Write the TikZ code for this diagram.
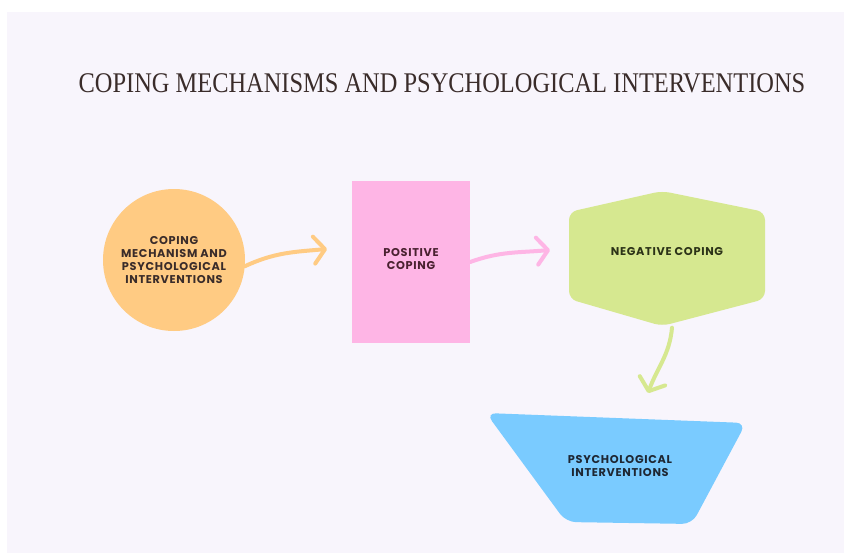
\documentclass[tikz,border=0pt]{standalone}
\usepackage{fontspec}
\usetikzlibrary{arrows.meta}
\newfontfamily\titlefont{Liberation Serif}
\newfontfamily\boxfont{Poppins}[LetterSpace=6]

\definecolor{pagebg}{HTML}{F8F5FC}
\definecolor{copeorange}{HTML}{FFCB83}
\definecolor{pospink}{HTML}{FEB5E5}
\definecolor{neggreen}{HTML}{D6E890}
\definecolor{psyblue}{HTML}{7ACBFF}
\definecolor{titleink}{HTML}{3A2C2A}
\definecolor{posink}{HTML}{4A2130}
\definecolor{negink}{HTML}{2C3318}
\definecolor{psyink}{HTML}{1E2733}

\tikzset{
  boxtext/.style={font=\boxfont\bfseries\fontsize{11.3}{12.7}\selectfont, align=center, inner sep=0pt},
  flowarrow/.style={line width=4pt, line cap=round,
    -{Straight Barb[length=11pt,width=27pt,line width=4pt,round]}},
}

\begin{document}
\begin{tikzpicture}[x=1pt,y=-1pt]
  \useasboundingbox (0,0) rectangle (844,555);
  % background
  \fill[white] (0,0) rectangle (844,555);
  \fill[pagebg] (7,12) rectangle (844,553);

  % title
  \node[font=\titlefont\fontsize{28.5}{30}\selectfont, text=titleink, inner sep=0pt]
    (title) at (442,83) {\scalebox{0.857}[1]{COPING MECHANISMS AND PSYCHOLOGICAL INTERVENTIONS}};

  % coping mechanism blob
  \node[circle, fill=copeorange, minimum size=142pt, inner sep=0pt] (cope) at (174,260) {};
  \node[boxtext, text=titleink] (copetxt) at (cope) {COPING\\MECHANISM AND\\PSYCHOLOGICAL\\INTERVENTIONS};

  % positive coping box
  \node[rectangle, fill=pospink, minimum width=118pt, minimum height=162pt, inner sep=0pt]
    (pos) at (411,262) {};
  \node[boxtext, text=posink] (postxt) at (411,259) {POSITIVE\\COPING};

  % negative coping hexagon
  \fill[neggreen, rounded corners=8pt] (569,212) -- (662,191) -- (765,212)
    -- (765,299) -- (662,326) -- (569,299) -- cycle;
  \node[minimum width=196pt, minimum height=135pt, inner sep=0pt] (neg) at (667,258) {};
  \node[boxtext, text=negink] (negtxt) at (667,252) {NEGATIVE COPING};

  % psychological interventions tray
  \fill[psyblue, rounded corners=10pt] (486,413) -- (746,423) -- (692,524)
    -- (566,522) -- cycle;
  \node[minimum width=200pt, minimum height=100pt, inner sep=0pt] (psy) at (618,468) {};
  \node[boxtext, text=psyink] (psytxt) at (620,466) {PSYCHOLOGICAL\\INTERVENTIONS};

  % arrow ends
  \coordinate (t1) at (327,249);
  \coordinate (t2) at (550,250);
  \coordinate (t3) at (648,393);

  % connectors
  \draw[flowarrow, copeorange] (cope.-5) to[out=25,in=185] (t1);
  \draw[flowarrow, pospink] (pos.east) to[out=20,in=185] (t2);
  \draw[flowarrow, neggreen] (neg.south) ++(5,2) to[out=-95,in=70] (t3);
\end{tikzpicture}
\end{document}
